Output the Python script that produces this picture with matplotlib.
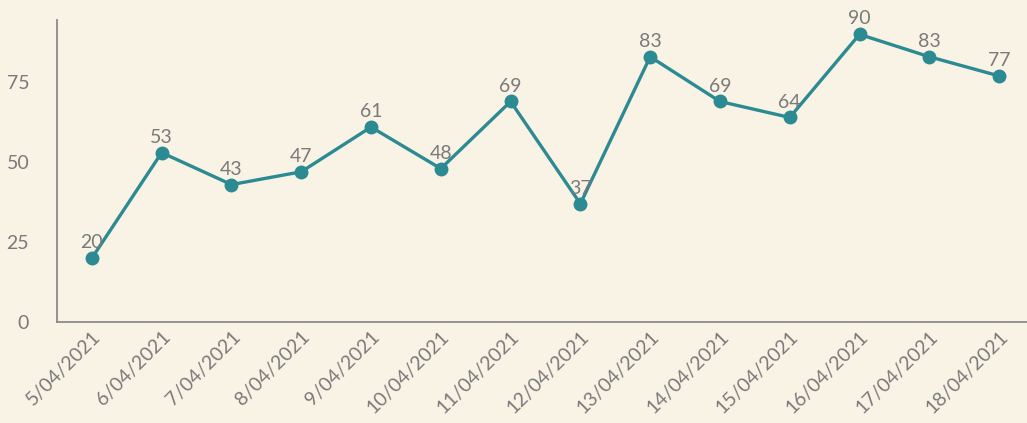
import matplotlib.pyplot as plt

dates = ["5/04/2021", "6/04/2021", "7/04/2021", "8/04/2021", "9/04/2021",
         "10/04/2021", "11/04/2021", "12/04/2021", "13/04/2021", "14/04/2021",
         "15/04/2021", "16/04/2021", "17/04/2021", "18/04/2021"]
values = [20, 53, 43, 47, 61, 48, 69, 37, 83, 69, 64, 90, 83, 77]
yticks = [0, 25, 50, 75]

plt.rcParams['font.family'] = ['Lato', 'DejaVu Sans']

bg = '#f9f3e6'
teal = '#2c8a92'
grey = '#7a7a7a'

fig = plt.figure(figsize=(10.27, 4.23), dpi=100, facecolor=bg)
ax = fig.add_axes([57/1027, 1 - 322/423, 970/1027, 302/423])
ax.set_facecolor(bg)

x = list(range(len(values)))
ax.plot(x, values, color=teal, linewidth=2.4, marker='o', markersize=9, zorder=3)
for xi, v in zip(x, values):
    ax.annotate(str(v), (xi, v), xytext=(0, 5), textcoords='offset points',
                ha='center', va='bottom', fontsize=14, color=grey)

ax.set_xlim(-0.5, 13.4)
ax.set_ylim(0, 94.5)
ax.set_yticks(yticks)
ax.set_yticklabels([str(t) for t in yticks], fontsize=14, color=grey)
ax.set_xticks(x)
ax.set_xticklabels(dates, rotation=45, ha='right', rotation_mode='anchor',
                   fontsize=14, color=grey)
ax.tick_params(length=0)
ax.tick_params(axis='y', pad=20)
ax.tick_params(axis='x', pad=4)

for s in ['top', 'right']:
    ax.spines[s].set_visible(False)
for s in ['left', 'bottom']:
    ax.spines[s].set_color('#8a8a8a')
    ax.spines[s].set_linewidth(1.3)

fig.savefig('out.png', dpi=100, facecolor=bg)
